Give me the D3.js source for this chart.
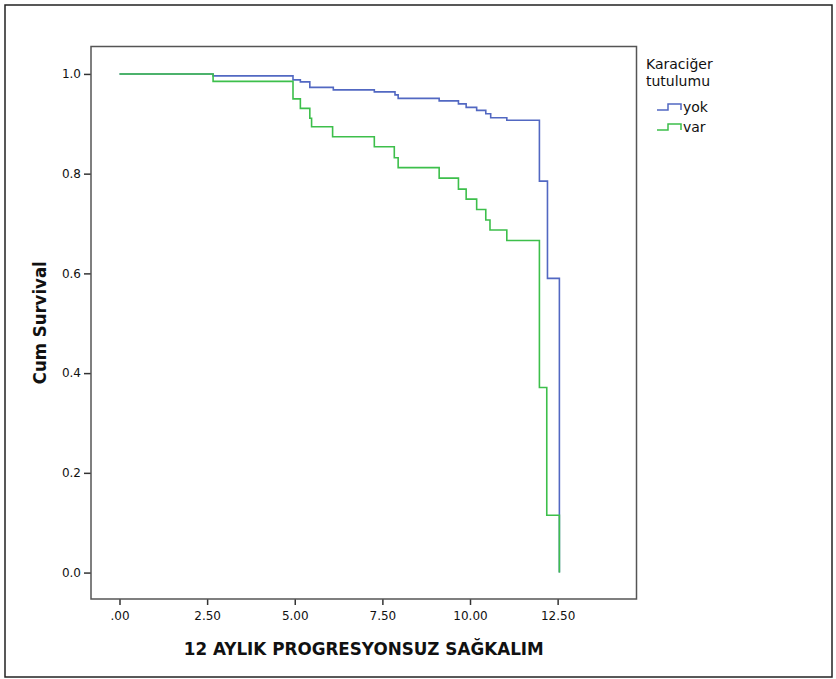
<!DOCTYPE html>
<html>
<head>
<meta charset="utf-8">
<script src="https://cdn.jsdelivr.net/npm/d3@7.9.0/dist/d3.min.js"></script>
<style>
  body { margin: 0; background: #fff; }
  svg { display: block; }
  text { font-family: "DejaVu Sans", sans-serif; fill: #111; }
</style>
</head>
<body>
<svg id="chart" width="836" height="679"></svg>
<script>
// survival steps
const timesYok = [0, 2.67, 4.95, 5.16, 5.43, 6.10, 7.27, 7.86, 7.95, 9.12, 9.67, 9.89, 10.19, 10.45, 10.59, 11.05, 11.98, 12.21, 12.55];
const survYok  = [1.0, 0.996, 0.988, 0.984, 0.973, 0.968, 0.964, 0.958, 0.951, 0.946, 0.940, 0.933, 0.927, 0.920, 0.912, 0.907, 0.785, 0.590, 0.0];

const timesVar = [0, 2.67, 4.95, 5.16, 5.43, 5.48, 6.08, 7.27, 7.84, 7.95, 9.12, 9.67, 9.89, 10.19, 10.45, 10.57, 11.05, 11.98, 12.19, 12.55];
const survVar  = [1.0, 0.985, 0.950, 0.931, 0.911, 0.894, 0.874, 0.854, 0.832, 0.812, 0.791, 0.769, 0.749, 0.728, 0.707, 0.687, 0.666, 0.371, 0.115, 0.0];

const groups = ['yok', 'var'];
const colors = ['#5268c2', '#3dbf4b'];
const xTicks = [0, 2.5, 5, 7.5, 10, 12.5];
const xTickLabels = ['.00', '2.50', '5.00', '7.50', '10.00', '12.50'];
const yTicks = [0, 0.2, 0.4, 0.6, 0.8, 1.0];
const yTickLabels = ['0.0', '0.2', '0.4', '0.6', '0.8', '1.0'];

const svg = d3.select('#chart');

// outer frame
svg.append('rect')
  .attr('x', 5).attr('y', 5).attr('width', 827).attr('height', 672)
  .attr('fill', 'none').attr('stroke', '#222').attr('stroke-width', 1.5);

const box = { left: 91, top: 46.5, right: 636.5, bottom: 599 };

const x = d3.scaleLinear().domain([-0.813, 14.75]).range([box.left, box.right]);
const y = d3.scaleLinear().domain([-0.053, 1.055]).range([box.bottom, box.top]);

// axes
const xAxis = d3.axisBottom(x)
  .tickValues(xTicks)
  .tickFormat((d, i) => xTickLabels[i])
  .tickSize(6).tickSizeOuter(0).tickPadding(6);
const gx = svg.append('g').attr('transform', `translate(0,${box.bottom})`).call(xAxis);

const yAxis = d3.axisLeft(y)
  .tickValues(yTicks)
  .tickFormat((d, i) => yTickLabels[i])
  .tickSize(7).tickSizeOuter(0).tickPadding(3);
const gy = svg.append('g').attr('transform', `translate(${box.left},0)`).call(yAxis);

[gx, gy].forEach(g => {
  g.select('.domain').remove();
  g.selectAll('line').attr('stroke', '#333').attr('stroke-width', 1.5);
  g.selectAll('text').style('font-family', '"DejaVu Sans", sans-serif').style('font-size', '12px').attr('fill', '#111');
});

// plot box
svg.append('rect')
  .attr('x', box.left).attr('y', box.top)
  .attr('width', box.right - box.left).attr('height', box.bottom - box.top)
  .attr('fill', 'none').attr('stroke', '#555').attr('stroke-width', 1.5);

// survival curves
const line = d3.line()
  .x(d => x(d[0]))
  .y(d => y(d[1]))
  .curve(d3.curveStepAfter);

const series = [
  d3.zip(timesYok, survYok),
  d3.zip(timesVar, survVar)
];
series.forEach((pts, i) => {
  svg.append('path')
    .attr('d', line(pts))
    .attr('fill', 'none')
    .attr('stroke', colors[i])
    .attr('stroke-width', 1.6);
});

// axis titles
svg.append('text')
  .attr('x', (box.left + box.right) / 2).attr('y', 655)
  .attr('text-anchor', 'middle')
  .attr('textLength', 360).attr('lengthAdjust', 'spacingAndGlyphs')
  .style('font-size', '17px').style('font-weight', 'bold')
  .text('12 AYLIK PROGRESYONSUZ SAĞKALIM');

svg.append('text')
  .attr('transform', `translate(46,${(box.top + box.bottom) / 2}) rotate(-90)`)
  .attr('text-anchor', 'middle')
  .attr('textLength', 123).attr('lengthAdjust', 'spacingAndGlyphs')
  .style('font-size', '17px').style('font-weight', 'bold')
  .text('Cum Survival');

// legend
const legend = svg.append('g').attr('transform', 'translate(646,0)');
legend.append('text').attr('x', 0).attr('y', 69).style('font-size', '14px').text('Karaciğer');
legend.append('text').attr('x', 0).attr('y', 86).style('font-size', '14px').text('tutulumu');

groups.forEach((g, i) => {
  const cy = 110 + i * 20;
  const sym = d3.line()([[11, cy], [22, cy], [22, cy - 6], [35, cy - 6], [35, cy]]);
  legend.append('path')
    .attr('d', sym).attr('fill', 'none')
    .attr('stroke', colors[i]).attr('stroke-width', 1.5);
  legend.append('text')
    .attr('x', 37).attr('y', cy + 2)
    .style('font-size', '14px')
    .text(g);
});
</script>
</body>
</html>
